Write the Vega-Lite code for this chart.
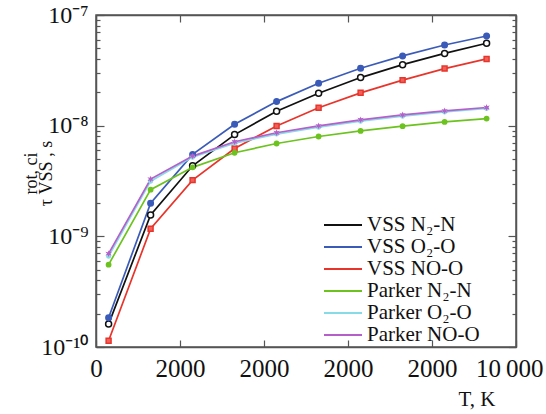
{
  "$schema": "https://vega.github.io/schema/vega-lite/v6.json",
  "width": 420,
  "height": 332,
  "autosize": {"type": "none"},
  "padding": {"left": 96, "top": 15, "right": 30, "bottom": 67},
  "background": "white",
  "config": {
    "view": {"stroke": "#555", "strokeWidth": 1.5},
    "font": "Liberation Serif",
    "axis": {"grid": false, "domainColor": "#555", "domainWidth": 1.5, "tickColor": "#555", "tickWidth": 1.2, "labelFont": "Liberation Serif", "labelColor": "#111", "titleFont": "Liberation Serif", "titleFontWeight": "normal", "titleColor": "#111"}
  },
  "data": {"values": [
    {"series": "VSS N₂-N", "T": 300, "tau": 1.61e-10},
    {"series": "VSS N₂-N", "T": 1300, "tau": 1.56e-9},
    {"series": "VSS N₂-N", "T": 2300, "tau": 4.34e-9},
    {"series": "VSS N₂-N", "T": 3300, "tau": 8.3e-9},
    {"series": "VSS N₂-N", "T": 4300, "tau": 1.35e-8},
    {"series": "VSS N₂-N", "T": 5300, "tau": 1.96e-8},
    {"series": "VSS N₂-N", "T": 6300, "tau": 2.72e-8},
    {"series": "VSS N₂-N", "T": 7300, "tau": 3.56e-8},
    {"series": "VSS N₂-N", "T": 8300, "tau": 4.5e-8},
    {"series": "VSS N₂-N", "T": 9300, "tau": 5.56e-8},
    {"series": "VSS O₂-O", "T": 300, "tau": 1.84e-10},
    {"series": "VSS O₂-O", "T": 1300, "tau": 1.99e-9},
    {"series": "VSS O₂-O", "T": 2300, "tau": 5.5e-9},
    {"series": "VSS O₂-O", "T": 3300, "tau": 1.03e-8},
    {"series": "VSS O₂-O", "T": 4300, "tau": 1.65e-8},
    {"series": "VSS O₂-O", "T": 5300, "tau": 2.42e-8},
    {"series": "VSS O₂-O", "T": 6300, "tau": 3.3e-8},
    {"series": "VSS O₂-O", "T": 7300, "tau": 4.27e-8},
    {"series": "VSS O₂-O", "T": 8300, "tau": 5.36e-8},
    {"series": "VSS O₂-O", "T": 9300, "tau": 6.46e-8},
    {"series": "VSS NO-O", "T": 300, "tau": 1.14e-10},
    {"series": "VSS NO-O", "T": 1300, "tau": 1.17e-9},
    {"series": "VSS NO-O", "T": 2300, "tau": 3.22e-9},
    {"series": "VSS NO-O", "T": 3300, "tau": 6.22e-9},
    {"series": "VSS NO-O", "T": 4300, "tau": 9.95e-9},
    {"series": "VSS NO-O", "T": 5300, "tau": 1.45e-8},
    {"series": "VSS NO-O", "T": 6300, "tau": 1.98e-8},
    {"series": "VSS NO-O", "T": 7300, "tau": 2.58e-8},
    {"series": "VSS NO-O", "T": 8300, "tau": 3.28e-8},
    {"series": "VSS NO-O", "T": 9300, "tau": 4.01e-8},
    {"series": "Parker N₂-N", "T": 300, "tau": 5.55e-10},
    {"series": "Parker N₂-N", "T": 1300, "tau": 2.64e-9},
    {"series": "Parker N₂-N", "T": 2300, "tau": 4.2e-9},
    {"series": "Parker N₂-N", "T": 3300, "tau": 5.69e-9},
    {"series": "Parker N₂-N", "T": 4300, "tau": 6.9e-9},
    {"series": "Parker N₂-N", "T": 5300, "tau": 7.98e-9},
    {"series": "Parker N₂-N", "T": 6300, "tau": 8.97e-9},
    {"series": "Parker N₂-N", "T": 7300, "tau": 9.9e-9},
    {"series": "Parker N₂-N", "T": 8300, "tau": 1.08e-8},
    {"series": "Parker N₂-N", "T": 9300, "tau": 1.16e-8},
    {"series": "Parker O₂-O", "T": 300, "tau": 6.6e-10},
    {"series": "Parker O₂-O", "T": 1300, "tau": 3.15e-9},
    {"series": "Parker O₂-O", "T": 2300, "tau": 5.2e-9},
    {"series": "Parker O₂-O", "T": 3300, "tau": 6.95e-9},
    {"series": "Parker O₂-O", "T": 4300, "tau": 8.4e-9},
    {"series": "Parker O₂-O", "T": 5300, "tau": 9.7e-9},
    {"series": "Parker O₂-O", "T": 6300, "tau": 1.1e-8},
    {"series": "Parker O₂-O", "T": 7300, "tau": 1.22e-8},
    {"series": "Parker O₂-O", "T": 8300, "tau": 1.33e-8},
    {"series": "Parker O₂-O", "T": 9300, "tau": 1.43e-8},
    {"series": "Parker NO-O", "T": 300, "tau": 6.97e-10},
    {"series": "Parker NO-O", "T": 1300, "tau": 3.29e-9},
    {"series": "Parker NO-O", "T": 2300, "tau": 5.31e-9},
    {"series": "Parker NO-O", "T": 3300, "tau": 7.15e-9},
    {"series": "Parker NO-O", "T": 4300, "tau": 8.63e-9},
    {"series": "Parker NO-O", "T": 5300, "tau": 9.96e-9},
    {"series": "Parker NO-O", "T": 6300, "tau": 1.13e-8},
    {"series": "Parker NO-O", "T": 7300, "tau": 1.25e-8},
    {"series": "Parker NO-O", "T": 8300, "tau": 1.36e-8},
    {"series": "Parker NO-O", "T": 9300, "tau": 1.46e-8}
  ]},
  "layer": [
    {
      "mark": {"type": "line", "strokeWidth": 1.7},
      "encoding": {
        "x": {"field": "T", "type": "quantitative", "scale": {"domain": [0, 10000], "nice": false, "zero": false},
          "axis": {"orient": "bottom", "values": [0, 2000, 4000, 6000, 8000, 10000], "tickSize": -7, "labelPadding": 16, "labelFlush": false, "labelFontSize": 25,
            "labelAlign": {"condition": {"test": "datum.value == 10000", "value": "right"}, "value": "center"},
            "labelOffset": {"condition": {"test": "datum.value == 10000", "value": 27}, "value": 0},
            "labelExpr": "datum.value == 0 ? '0' : datum.value == 10000 ? '10\u2009000' : '2000'",
            "title": "T, K", "titleFontSize": 21, "titleAlign": "right", "titleBaseline": "alphabetic", "titleX": 399, "titleY": 58}},
        "y": {"field": "tau", "type": "quantitative", "scale": {"type": "log", "domain": [1e-10, 1e-7], "nice": false},
          "axis": {"orient": "left",
            "values": [1e-10, 2e-10, 3e-10, 4e-10, 5e-10, 6e-10, 7e-10, 8e-10, 9e-10, 1e-9, 2e-9, 3e-9, 4e-9, 5e-9, 6e-9, 7e-9, 8e-9, 9e-9, 1e-8, 2e-8, 3e-8, 4e-8, 5e-8, 6e-8, 7e-8, 8e-8, 9e-8, 1e-7],
            "tickSize": {"condition": {"test": "abs(log(datum.value)/LN10 - round(log(datum.value)/LN10)) < 0.001", "value": -8}, "value": -4},
            "labelPadding": 16, "labelFontSize": 24,
            "labelExpr": "abs(log(datum.value)/LN10 - round(log(datum.value)/LN10)) < 0.001 ? (round(log(datum.value)/LN10) == -7 ? '10⁻⁷' : round(log(datum.value)/LN10) == -8 ? '10⁻⁸' : round(log(datum.value)/LN10) == -9 ? '10⁻⁹' : '10⁻¹⁰') : ''",
            "title": ["rot, ci", "τ VSS , s"], "titleFontSize": 18, "titleLineHeight": 15, "titleBaseline": "bottom", "titleAlign": "center", "titleX": -56, "titleY": 158}},
        "color": {"field": "series", "type": "nominal",
          "scale": {"domain": ["VSS N₂-N", "VSS O₂-O", "VSS NO-O", "Parker N₂-N", "Parker O₂-O", "Parker NO-O"],
            "range": ["#111111", "#3b5bb8", "#e8352b", "#6cc31e", "#86dbe6", "#b65ec9"]},
          "legend": {"orient": "none", "legendX": 236, "legendY": 199, "title": null, "symbolType": "M-2,0H2", "symbolSize": 361, "symbolStrokeWidth": 2.2,
            "labelFont": "Liberation Serif", "labelFontSize": 21, "labelColor": "#111", "labelLimit": 300, "labelOffset": 13, "rowPadding": 1}}
      }
    },
    {
      "mark": {"type": "point", "filled": false, "strokeWidth": 1.5, "opacity": 1},
      "encoding": {
        "x": {"field": "T", "type": "quantitative",
          "axis": {"orient": "top", "values": [0, 2000, 4000, 6000, 8000, 10000], "tickSize": -7, "labels": false, "title": null}},
        "y": {"field": "tau", "type": "quantitative",
          "axis": {"orient": "right",
            "values": [1e-10, 2e-10, 3e-10, 4e-10, 5e-10, 6e-10, 7e-10, 8e-10, 9e-10, 1e-9, 2e-9, 3e-9, 4e-9, 5e-9, 6e-9, 7e-9, 8e-9, 9e-9, 1e-8, 2e-8, 3e-8, 4e-8, 5e-8, 6e-8, 7e-8, 8e-8, 9e-8, 1e-7],
            "tickSize": {"condition": {"test": "abs(log(datum.value)/LN10 - round(log(datum.value)/LN10)) < 0.001", "value": -8}, "value": -4},
            "labels": false, "title": null}},
        "stroke": {"field": "series", "type": "nominal",
          "sort": ["VSS N₂-N", "VSS O₂-O", "VSS NO-O", "Parker N₂-N", "Parker O₂-O", "Parker NO-O"],
          "scale": {"range": ["#111111", "#3b5bb8", "#e8352b", "#6cc31e", "#86dbe6", "#b65ec9"]}, "legend": null},
        "fill": {"field": "series", "type": "nominal",
          "sort": ["VSS N₂-N", "VSS O₂-O", "VSS NO-O", "Parker N₂-N", "Parker O₂-O", "Parker NO-O"],
          "scale": {"range": ["#ffffff", "#3b5bb8", "#f0605a", "#6cc31e", "#86dbe6", "#b65ec9"]}, "legend": null},
        "shape": {"field": "series", "type": "nominal",
          "sort": ["VSS N₂-N", "VSS O₂-O", "VSS NO-O", "Parker N₂-N", "Parker O₂-O", "Parker NO-O"],
          "scale": {"range": ["circle", "circle", "square", "circle", "circle", "M0,-1L0.25,-0.35L0.87,-0.5L0.45,0L0.87,0.5L0.25,0.35L0,1L-0.25,0.35L-0.87,0.5L-0.45,0L-0.87,-0.5L-0.25,-0.35Z"]}, "legend": null},
        "size": {"field": "series", "type": "nominal",
          "sort": ["VSS N₂-N", "VSS O₂-O", "VSS NO-O", "Parker N₂-N", "Parker O₂-O", "Parker NO-O"],
          "scale": {"range": [36, 7, 36, 12, 8, 64]}, "legend": null}
      }
    }
  ],
  "resolve": {"axis": {"x": "independent", "y": "independent"}}
}
